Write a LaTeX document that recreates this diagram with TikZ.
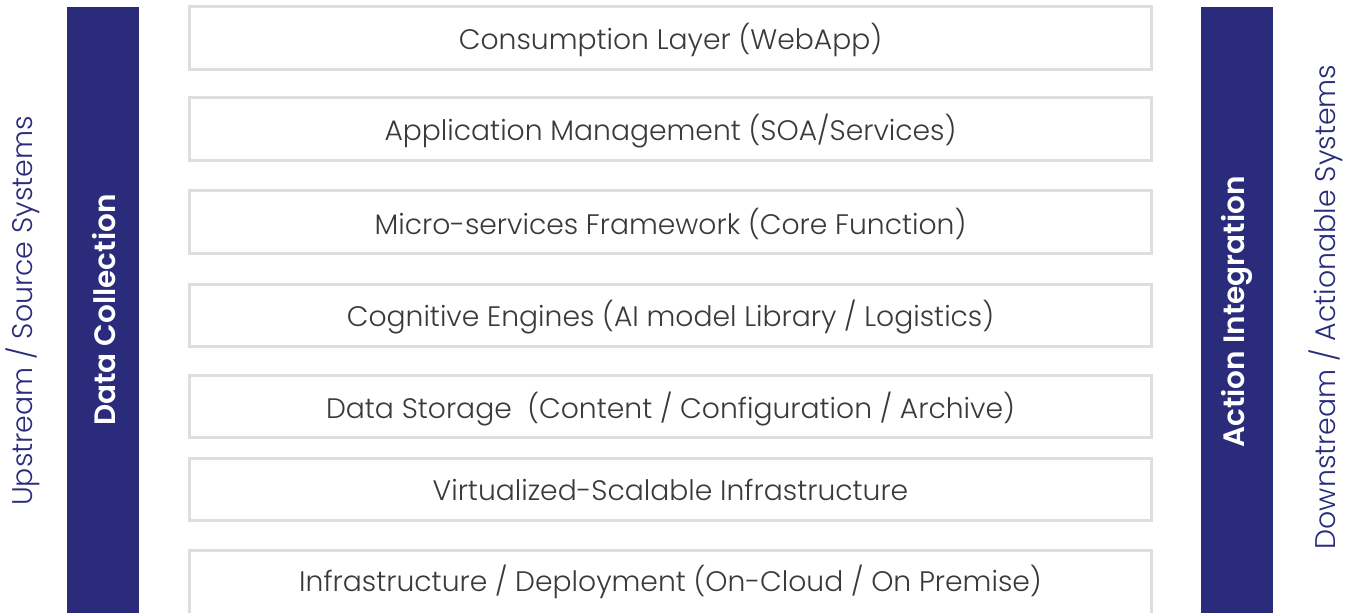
\documentclass[tikz,border=0pt]{standalone}
\usepackage{fontspec}
\setmainfont{Poppins Light}
\newfontfamily\boldface{Poppins SemiBold}
\definecolor{navy}{HTML}{2A2C7B}
\definecolor{boxline}{HTML}{DEDEDE}
\definecolor{boxtext}{HTML}{3A3A3A}
\begin{document}
\begin{tikzpicture}[x=1pt,y=-1pt,
  layer/.style={draw=boxline,line width=3pt,fill=white},
  layertext/.style={text=boxtext,font=\fontsize{28.2}{32}\selectfont,inner sep=0pt},
  bar/.style={fill=navy,draw=none},
  bartext/.style={text=white,font=\boldface\fontsize{29.5}{34}\selectfont,rotate=90,inner sep=0pt},
  sidetext/.style={text=navy,font=\fontsize{28.4}{32}\selectfont,rotate=90,inner sep=0pt}]
\useasboundingbox (0,0) rectangle (1352,613);
\clip (0,0) rectangle (1352,613);
% bars
\path[bar] (67,7) rectangle (139,620);
\path[bar] (1201,7) rectangle (1273,620);
\node[bartext] (dc) at (104,310) {Data Collection};
\node[bartext] (ai) at (1237,312) {Action Integration};
\node[sidetext] (up) at (23,311) {Upstream / Source Systems};
\node[sidetext] (down) at (1326,307) {Downstream / Actionable Systems};
% layers
\draw[layer] (189.5,6.5) rectangle (1151.5,69.5);
\draw[layer] (189.5,97.5) rectangle (1151.5,160.5);
\draw[layer] (189.5,190.5) rectangle (1151.5,253.5);
\draw[layer] (189.5,284.5) rectangle (1151.5,346.5);
\draw[layer] (189.5,375.5) rectangle (1151.5,437.5);
\draw[layer] (189.5,458.5) rectangle (1151.5,520.5);
\draw[layer] (189.5,550.5) rectangle (1151.5,616);
\node[layertext] (l1) at (670.5,40) {Consumption Layer (WebApp)};
\node[layertext] (l2) at (670.5,131) {Application Management (SOA/Services)};
\node[layertext] (l3) at (670.5,224) {Micro-services Framework (Core Function)};
\node[layertext] (l4) at (670.5,317) {Cognitive Engines (AI model Library / Logistics)};
\node[layertext] (l5) at (670.5,409) {Data Storage\ \ (Content / Configuration / Archive)};
\node[layertext] (l6) at (670.5,490) {Virtualized-Scalable Infrastructure};
\node[layertext] (l7) at (670.5,582) {Infrastructure / Deployment (On-Cloud / On Premise)};
\end{tikzpicture}
\end{document}
